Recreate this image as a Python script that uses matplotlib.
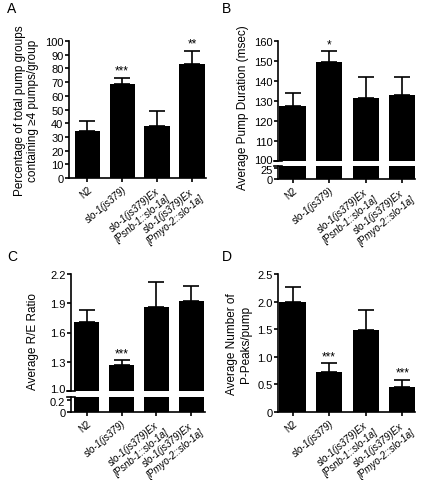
import numpy as np
import matplotlib.pyplot as plt
from matplotlib.transforms import ScaledTranslation

plt.rcParams['font.family'] = ['Liberation Sans', 'DejaVu Sans']
plt.rcParams['font.size'] = 8
plt.rcParams['axes.linewidth'] = 1.2

# data
groups = ["N2", "slo-1(js379)", "slo-1(js379)Ex\n[Psnb-1::slo-1a]", "slo-1(js379)Ex\n[Pmyo-2::slo-1a]"]
pct_groups = [34.5, 68.4, 38.1, 83.0]
pct_err = [7.2, 4.4, 10.9, 9.7]
pct_stars = ["", "***", "", "**"]
duration = [127.5, 149.5, 131.3, 133.0]
duration_err = [6.5, 5.5, 10.7, 9.0]
duration_stars = ["", "*", "", ""]
re_ratio = [1.71, 1.27, 1.86, 1.92]
re_err = [0.12, 0.05, 0.26, 0.16]
re_stars = ["", "***", "", ""]
ppeaks = [2.0, 0.72, 1.49, 0.46]
ppeaks_err = [0.26, 0.16, 0.35, 0.12]
ppeaks_stars = ["", "***", "", "***"]

W, H = 425, 481
fig = plt.figure(figsize=(W / 100, H / 100), dpi=100)


def box(x0, y0, x1, y1):
    # pixel box -> figure fraction
    return [x0 / W, 1 - y1 / H, (x1 - x0) / W, (y1 - y0) / H]


x = np.arange(len(groups))


def bars(ax, vals, errs, stars, star_pad, xlim):
    ax.bar(x, vals, width=0.72, color="black", zorder=2)
    ax.errorbar(x, vals, yerr=[[0] * len(vals), errs], fmt="none", ecolor="black",
                elinewidth=1.2, capsize=6, capthick=1.2, zorder=1)
    for xi, v, e, s in zip(x, vals, errs, stars):
        if s:
            ax.text(xi, v + e + star_pad, s, ha="center", va="bottom", fontsize=8.5)
    ax.set_xlim(*xlim)


def style(ax, bottom=True):
    ax.spines["top"].set_visible(False)
    ax.spines["right"].set_visible(False)
    ax.tick_params(direction="out", length=3, width=1.2, labelsize=8, pad=1)
    if bottom:
        ax.set_xticks(x)
        ax.set_xticklabels(groups, rotation=40, ha="right", rotation_mode="anchor",
                           fontsize=7, multialignment="center")
        for i, t in enumerate(ax.get_xticklabels()):
            if i > 0:
                t.set_fontstyle("italic")
    else:
        ax.spines["bottom"].set_visible(False)
        ax.set_xticks([])


def break_marks(ax_up, ax_low):
    for a, yy in ((ax_up, 0), (ax_low, 1)):
        w = 4 / (a.get_position().width * W)
        a.plot([-w, w], [yy, yy], transform=a.transAxes, color="black",
               lw=1.2, clip_on=False)


def nudge(label, dy_px):
    label.set_transform(label.get_transform() + ScaledTranslation(0, dy_px / 100, fig.dpi_scale_trans))


# Panel A
xl_a = (-0.52, 3.4)
axA = fig.add_axes(box(69, 42, 206, 179))
bars(axA, pct_groups, pct_err, pct_stars, 1, xl_a)
axA.set_ylim(0, 100)
axA.set_yticks(range(0, 101, 10))
style(axA)
axA.set_ylabel("Percentage of total pump groups\ncontaining \u22654 pumps/group", fontsize=8.5)

# Panel B (broken axis)
xl_b = (-0.4, 3.35)
axBu = fig.add_axes(box(278, 42, 415, 162))
axBl = fig.add_axes(box(278, 167, 415, 180))
bars(axBu, duration, duration_err, duration_stars, 0.5, xl_b)
bars(axBl, duration, [0] * 4, [""] * 4, 0, xl_b)
axBu.set_ylim(100, 160)
axBu.set_yticks(range(100, 161, 10))
axBl.set_ylim(0, 29)
axBl.set_yticks([0, 25])
style(axBu, bottom=False)
style(axBl)
axBl.spines["top"].set_visible(False)
break_marks(axBu, axBl)
nudge(axBu.get_yticklabels()[0], 2.5)
nudge(axBl.get_yticklabels()[1], -1)
fig.text(243 / W, 1 - 108 / H, "Average Pump Duration (msec)", rotation=90,
         ha="center", va="center", fontsize=8.5)

# Panel C (broken axis)
xl_c = (-0.46, 3.4)
axCu = fig.add_axes(box(71, 275, 205, 392))
axCl = fig.add_axes(box(71, 398, 205, 413))
bars(axCu, re_ratio, re_err, re_stars, 0.0, xl_c)
bars(axCl, re_ratio, [0] * 4, [""] * 4, 0, xl_c)
axCu.set_ylim(1.0, 2.2)
axCu.set_yticks(np.arange(1.0, 2.21, 0.3))
axCu.set_yticklabels(["1.0", "1.3", "1.6", "1.9", "2.2"])
axCl.set_ylim(0, 0.25)
axCl.set_yticks([0, 0.2])
axCl.set_yticklabels(["0", "0.2"])
style(axCu, bottom=False)
style(axCl)
axCl.spines["top"].set_visible(False)
break_marks(axCu, axCl)
nudge(axCu.get_yticklabels()[0], 3)
nudge(axCl.get_yticklabels()[1], -1)
fig.text(33 / W, 1 - 342 / H, "Average R/E Ratio", rotation=90,
         ha="center", va="center", fontsize=8.5)

# Panel D
xl_d = (-0.4, 3.35)
axD = fig.add_axes(box(278, 275, 415, 413))
bars(axD, ppeaks, ppeaks_err, ppeaks_stars, 0.02, xl_d)
axD.set_ylim(0, 2.5)
axD.set_yticks(np.arange(0, 2.51, 0.5))
axD.set_yticklabels(["0", "0.5", "1.0", "1.5", "2.0", "2.5"])
style(axD)
axD.set_ylabel("Average Number of\nP-Peaks/pump", fontsize=8.5)

for lab, px, py in (("A", 7, 9), ("B", 222, 9), ("C", 7, 257), ("D", 222, 257)):
    fig.text(px / W, 1 - py / H, lab, fontsize=10, ha="left", va="center")

fig.savefig("out.png", dpi=100)
